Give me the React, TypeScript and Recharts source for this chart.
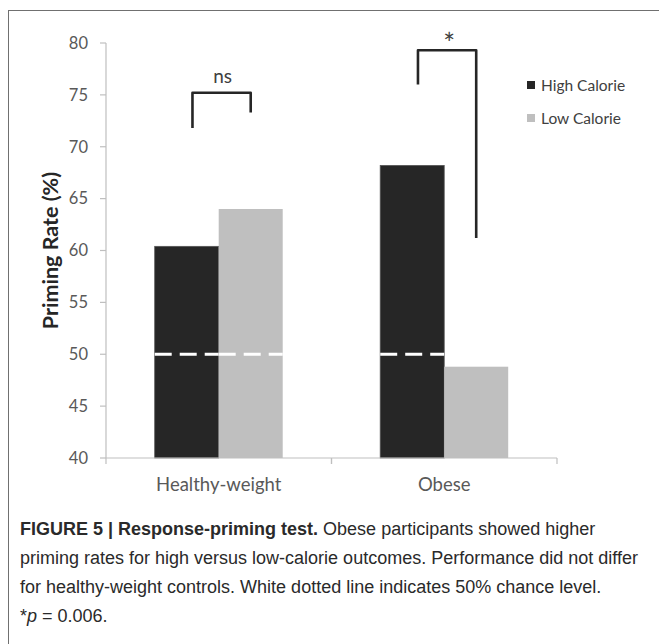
import React from 'react';
import { BarChart, Bar, XAxis, YAxis, Legend } from 'recharts';

const categories = ['Healthy-weight', 'Obese'];
const highCalorie = [60.4, 68.2];
const lowCalorie = [64.0, 48.8];
const yTicks = [40, 45, 50, 55, 60, 65, 70, 75, 80];
const yDomain = [40, 80];
const chanceLevel = 50;
const sigLabels = ['ns', '*'];
const bracketLeftEnd = [71.8, 76.0];
const bracketTop = [75.2, 79.3];
const bracketRightEnd = [73.3, 61.2];
const seriesNames = ['High Calorie', 'Low Calorie'];
const seriesColors = ['#262626', '#bfbfbf'];
const captionLines = [
  'priming rates for high versus low-calorie outcomes. Performance did not differ',
  'for healthy-weight controls. White dotted line indicates 50% chance level.',
];

const data = categories.map((c, i) => ({ category: c, high: highCalorie[i], low: lowCalorie[i] }));

const CHART_FONT = 'Lato, "Open Sans", sans-serif';

function makeY(props: any, value: number) {
  const { y, height, background } = props;
  if (background && background.height) {
    return (v: number) => background.y + (background.height * (yDomain[1] - v)) / (yDomain[1] - yDomain[0]);
  }
  const bottom = y + height;
  const per = height / (value - yDomain[0]);
  return (v: number) => bottom - (v - yDomain[0]) * per;
}

const ChanceLine = ({ x, width, yy }: any) => (
  <line x1={x} x2={x + width} y1={yy} y2={yy} stroke="#ffffff" strokeWidth={3} strokeDasharray="17 8" />
);

const HighShape = (props: any) => {
  const { x, y, width, height, index } = props;
  const v = highCalorie[index];
  const yOf = makeY(props, v);
  return (
    <g>
      <rect x={x} y={y} width={width} height={height} fill={seriesColors[0]} stroke="#555" strokeWidth={0.8} />
      {v > chanceLevel && <ChanceLine x={x} width={width} yy={yOf(chanceLevel)} />}
    </g>
  );
};

const LowShape = (props: any) => {
  const { x, y, width, height, index } = props;
  const v = lowCalorie[index];
  const yOf = makeY(props, v);
  const leftX = x - width * 0.41;
  const rightX = x + width / 2;
  const topY = yOf(bracketTop[index]);
  const isStar = sigLabels[index] === '*';
  return (
    <g>
      <rect x={x} y={y} width={width} height={height} fill={seriesColors[1]} />
      {v > chanceLevel && <ChanceLine x={x} width={width} yy={yOf(chanceLevel)} />}
      <polyline
        points={`${leftX},${yOf(bracketLeftEnd[index])} ${leftX},${topY} ${rightX},${topY} ${rightX},${yOf(bracketRightEnd[index])}`}
        fill="none"
        stroke="#262626"
        strokeWidth={2.6}
        strokeLinejoin="round"
      />
      <text
        x={(leftX + rightX) / 2 + (isStar ? 2 : 1)}
        y={topY + (isStar ? 4 : -10)}
        textAnchor="middle"
        fontFamily={CHART_FONT}
        fontSize={isStar ? 28 : 19}
        fill="#404040"
      >
        {sigLabels[index]}
      </text>
    </g>
  );
};

const XTick = (props: any) => {
  const { x, y, payload, width, visibleTicksCount } = props;
  const half = width && visibleTicksCount ? width / (2 * visibleTicksCount) : 112.75;
  return (
    <g>
      <line x1={x - half} x2={x - half} y1={y} y2={y + 6} stroke="#bfbfbf" strokeWidth={1.2} />
      <line x1={x + half} x2={x + half} y1={y} y2={y + 6} stroke="#bfbfbf" strokeWidth={1.2} />
      <text x={x} y={y + 33} textAnchor="middle" fontFamily={CHART_FONT} fontSize={18.5} fill="#595959">
        {payload.value}
      </text>
    </g>
  );
};

const YLabel = (props: any) => {
  const vb = props.viewBox || { x: 0, y: 43, width: 106, height: 415 };
  const cx = vb.x + 50;
  const cy = vb.y + vb.height / 2;
  return (
    <text
      x={cx}
      y={cy}
      transform={`rotate(-90, ${cx}, ${cy})`}
      textAnchor="middle"
      dominantBaseline="central"
      fontFamily={CHART_FONT}
      fontWeight="bold"
      fontSize={21.5}
      fill="#262626"
    >
      Priming Rate (%)
    </text>
  );
};

const LegendContent = () => (
  <div style={{ fontFamily: CHART_FONT, fontSize: 15.5, color: '#404040' }}>
    {seriesNames.map((n, i) => (
      <div key={n} style={{ display: 'flex', alignItems: 'center', height: 20, marginBottom: 13 }}>
        <span style={{ display: 'inline-block', width: 8, height: 8, background: seriesColors[i], marginRight: 6 }} />
        <span>{n}</span>
      </div>
    ))}
  </div>
);

export default function App() {
  return (
    <div style={{ position: 'absolute', left: 0, top: 0, width: 659, height: 644, background: '#fff', overflow: 'hidden' }}>
      <div style={{ position: 'absolute', left: 8, top: 10, width: 651, height: 634, borderTop: '1.5px solid #707070', borderLeft: '1.5px solid #707070', boxSizing: 'border-box' }} />
      <div style={{ position: 'absolute', left: 0, top: 0 }}>
        <BarChart
          width={659}
          height={500}
          data={data}
          margin={{ top: 43, right: 102, bottom: 12, left: 0 }}
          barCategoryGap="21.6%"
          barGap={0}
        >
          <XAxis
            dataKey="category"
            height={30}
            tickLine={false}
            tickSize={0}
            tickMargin={0}
            axisLine={{ stroke: '#bfbfbf', strokeWidth: 1.2 }}
            tick={<XTick />}
            interval={0}
          />
          <YAxis
            width={106}
            domain={yDomain}
            ticks={yTicks}
            interval={0}
            tickSize={6}
            tickMargin={12}
            axisLine={{ stroke: '#bfbfbf', strokeWidth: 1.2 }}
            tickLine={{ stroke: '#bfbfbf', strokeWidth: 1.2 }}
            tick={{ fontFamily: CHART_FONT, fontSize: 16.5, fill: '#595959' }}
            label={<YLabel />}
          />
          <Legend
            layout="vertical"
            align="center"
            verticalAlign="middle"
            content={<LegendContent />}
            wrapperStyle={{ left: 527, top: 75, width: 130, right: 'auto', bottom: 'auto' }}
          />
          <Bar dataKey="high" name={seriesNames[0]} fill={seriesColors[0]} shape={<HighShape />} isAnimationActive={false} />
          <Bar dataKey="low" name={seriesNames[1]} fill={seriesColors[1]} shape={<LowShape />} isAnimationActive={false} />
        </BarChart>
      </div>
      <div
        style={{
          position: 'absolute',
          left: 20,
          top: 515,
          width: 639,
          fontFamily: '"Liberation Sans", Arial, sans-serif',
          fontSize: 18,
          lineHeight: '29px',
          color: '#2a2a2a',
          whiteSpace: 'nowrap',
        }}
      >
        <div>
          <b>FIGURE 5 | Response-priming test.</b> Obese participants showed higher
        </div>
        <div>{captionLines[0]}</div>
        <div>{captionLines[1]}</div>
        <div>
          *<i>p</i> = 0.006.
        </div>
      </div>
    </div>
  );
}
